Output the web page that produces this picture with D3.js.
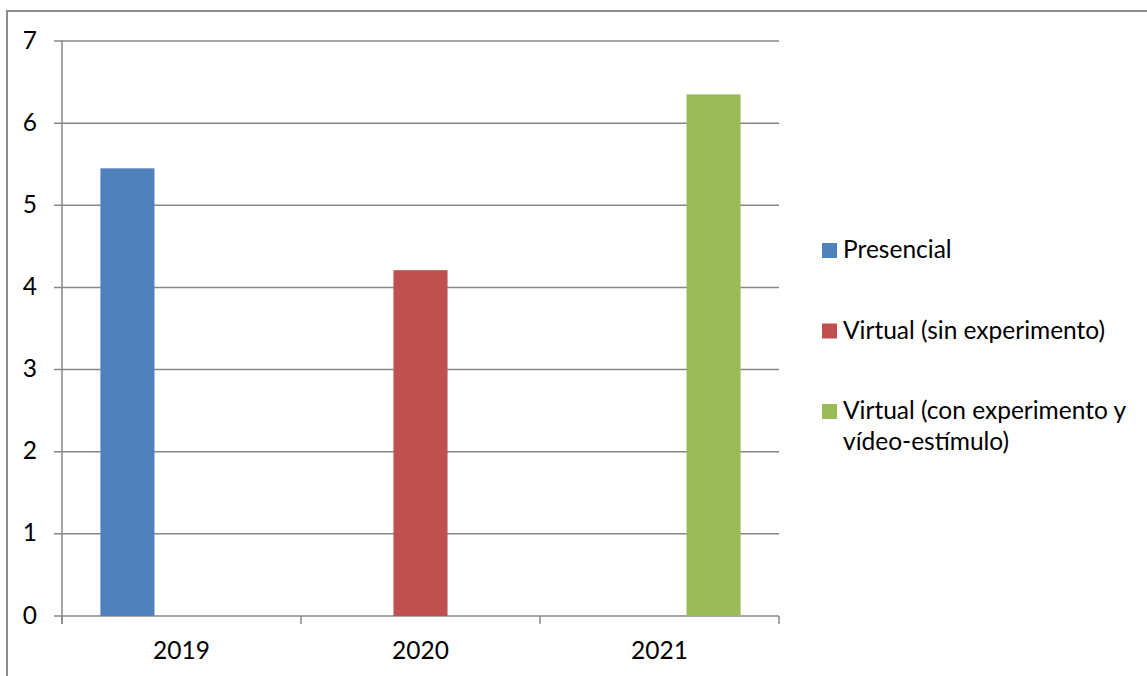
<!DOCTYPE html>
<html>
<head>
<meta charset="utf-8">
<script src="https://cdn.jsdelivr.net/npm/d3@7"></script>
<style>
  body { margin: 0; background: #fff; }
  text { font-family: Lato, "Open Sans", sans-serif; fill: #000; }
</style>
</head>
<body>
<div class="visualisation"></div>
<script>
// data
const years = ["2019", "2020", "2021"];
const seriesNames = ["Presencial", "Virtual (sin experimento)", "Virtual (con experimento y vídeo-estímulo)"];
const legendLines = [["Presencial"], ["Virtual (sin experimento)"], ["Virtual (con experimento y", "vídeo-estímulo)"]];
const seriesColors = ["#4F81BD", "#C0504D", "#9BBB59"];
const presencial = [5.45, 0, 0];
const virtualSin = [0, 4.21, 0];
const virtualCon = [0, 0, 6.35];
const yTicks = [0, 1, 2, 3, 4, 5, 6, 7];

const wdth = 1147;
const hght = 676;
const plot = {left: 62, right: 779, top: 41, bottom: 616};
const fontSize = 24.5;

const svg = d3.select(".visualisation")
  .append("svg")
  .attr("width", wdth)
  .attr("height", hght);

svg.append("rect")
  .attr("width", wdth)
  .attr("height", hght)
  .attr("fill", "#fff");

// chart area border (cut at right and bottom in the original)
svg.append("rect")
  .attr("x", 7)
  .attr("y", 11)
  .attr("width", 1300)
  .attr("height", 800)
  .attr("fill", "none")
  .attr("stroke", "#8c8c8c")
  .attr("stroke-width", 2);

const x0 = d3.scaleBand()
  .domain(years)
  .range([plot.left, plot.right]);

const x1 = d3.scaleBand()
  .domain(seriesNames)
  .range([0, x0.bandwidth()])
  .paddingOuter(0.71);

const y = d3.scaleLinear()
  .domain([0, 7])
  .range([plot.bottom, plot.top]);

// gridlines with tick stubs
svg.append("g")
  .selectAll("line")
  .data(yTicks)
  .enter()
  .append("line")
  .attr("x1", plot.left - 8)
  .attr("x2", plot.right)
  .attr("y1", d => y(d))
  .attr("y2", d => y(d))
  .attr("stroke", "#878787")
  .attr("stroke-width", 1.5);

svg.append("g")
  .selectAll("text")
  .data(yTicks)
  .enter()
  .append("text")
  .attr("x", 37)
  .attr("y", d => y(d) + 7.5)
  .attr("text-anchor", "end")
  .style("font-size", fontSize + "px")
  .text(d => d);

// bars
const table = seriesNames.map((name, i) => ({
  name: name,
  color: seriesColors[i],
  values: [presencial, virtualSin, virtualCon][i]
}));

table.forEach(s => {
  svg.append("g")
    .selectAll("rect")
    .data(years.map((yr, j) => ({year: yr, value: s.values[j]})).filter(d => d.value > 0))
    .enter()
    .append("rect")
    .attr("x", d => x0(d.year) + x1(s.name))
    .attr("width", x1.bandwidth())
    .attr("y", d => y(d.value))
    .attr("height", d => y(0) - y(d.value))
    .attr("fill", s.color);
});

// axes lines
svg.append("line")
  .attr("x1", plot.left)
  .attr("x2", plot.left)
  .attr("y1", plot.top)
  .attr("y2", plot.bottom + 8)
  .attr("stroke", "#878787")
  .attr("stroke-width", 1.5);

const boundaries = years.map(d => x0(d)).concat([plot.right]);
svg.append("g")
  .selectAll("line")
  .data(boundaries)
  .enter()
  .append("line")
  .attr("x1", d => d)
  .attr("x2", d => d)
  .attr("y1", plot.bottom)
  .attr("y2", plot.bottom + 8)
  .attr("stroke", "#878787")
  .attr("stroke-width", 1.5);

svg.append("g")
  .selectAll("text")
  .data(years)
  .enter()
  .append("text")
  .attr("x", d => x0(d) + x0.bandwidth() / 2)
  .attr("y", 659)
  .attr("text-anchor", "middle")
  .style("font-size", fontSize + "px")
  .text(d => d);

// legend
const legend = svg.append("g")
  .attr("class", "legend")
  .selectAll("g")
  .data(table)
  .enter()
  .append("g")
  .attr("transform", (d, i) => "translate(822," + (258 + i * 80.5) + ")");

legend.append("rect")
  .attr("x", 0)
  .attr("y", -15)
  .attr("width", 15)
  .attr("height", 15)
  .attr("fill", d => d.color);

legend.each(function (d, i) {
  d3.select(this)
    .selectAll("text")
    .data(legendLines[i])
    .enter()
    .append("text")
    .attr("x", 21)
    .attr("y", (t, k) => k * 31)
    .style("font-size", fontSize + "px")
    .text(t => t);
});
</script>
</body>
</html>
